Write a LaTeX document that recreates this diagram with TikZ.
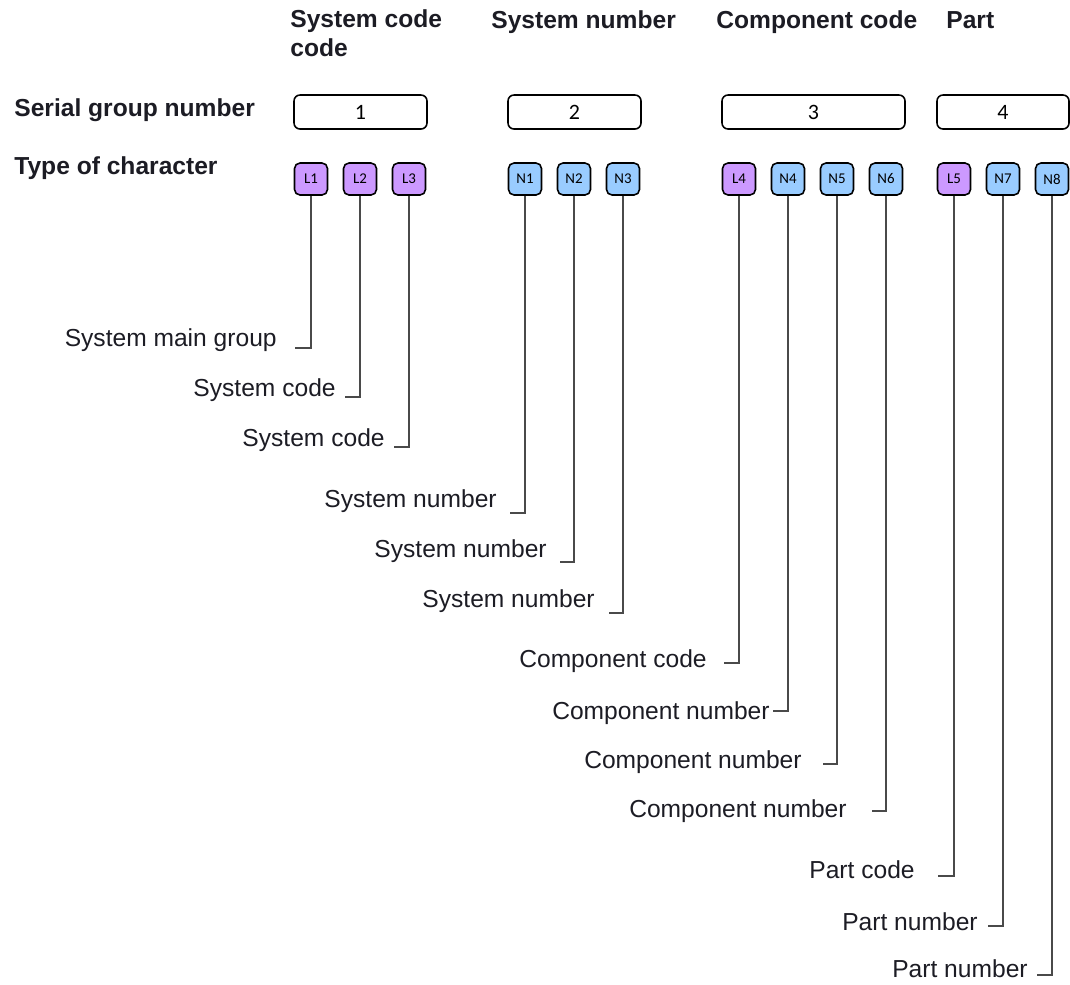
\documentclass[tikz,border=0pt]{standalone}
\usepackage{fontspec}
\setmainfont{Liberation Sans}
\newfontfamily\carlitofont{Carlito}
\usetikzlibrary{positioning}
\definecolor{letterfill}{HTML}{CC99FF}
\definecolor{numberfill}{HTML}{99CCFF}
\definecolor{linegray}{HTML}{4A4A4A}
\definecolor{textdark}{HTML}{1C1C24}
\tikzset{
	head/.style={anchor=base west, inner sep=0pt, text=textdark, font=\fontsize{14}{16}\selectfont\bfseries, align=left},
	group/.style={draw, line width=0.9pt, rounded corners=1.2mm, minimum height=0.68cm, inner sep=0pt, font=\carlitofont\fontsize{12.5}{14}\selectfont},
	charbox/.style={draw, line width=0.9pt, rounded corners=1.1mm, minimum width=0.66cm, minimum height=0.64cm, inner sep=0pt, font=\carlitofont\fontsize{8.5}{10}\selectfont},
	letter/.style={charbox, fill=letterfill},
	number/.style={charbox, fill=numberfill},
	lbl/.style={anchor=base east, inner sep=0pt, text=textdark, font=\fontsize{14}{16}\selectfont},
	conn/.style={draw=linegray, line width=0.8pt}
}
\begin{document}
\begin{tikzpicture}[x=0.02cm, y=-0.02cm]
		\useasboundingbox (0,0) rectangle (1070,984);
		% headings (two-line node sits on its last baseline)
		\node[head] (hsys) at (290, 56) {System code\\code};
		\node[head] (hnum) at (491, 28) {System number};
		\node[head] (hcomp) at (716, 28) {Component code};
		\node[head] (hpart) at (946, 28) {Part};
		\node[head] (serial) at (14, 116) {Serial group number};
		\node[head] (type) at (14, 174) {Type of character};
		% serial groups
		\node[group, minimum width=2.66cm] (g1) at (360.5, 112) {1};
		\node[group, minimum width=2.66cm] (g2) at (574.5, 112) {2};
		\node[group, minimum width=3.66cm] (g3) at (813.5, 112) {3};
		\node[group, minimum width=2.64cm] (g4) at (1003, 112) {4};
		% characters
		\node[letter] (L1) at (311, 179) {L1};
		\node[letter] (L2) at (360, 179) {L2};
		\node[letter] (L3) at (409, 179) {L3};
		\node[number] (N1) at (525, 179) {N1};
		\node[number] (N2) at (574, 179) {N2};
		\node[number] (N3) at (623, 179) {N3};
		\node[letter] (L4) at (739, 179) {L4};
		\node[number] (N4) at (788, 179) {N4};
		\node[number] (N5) at (837, 179) {N5};
		\node[number] (N6) at (886, 179) {N6};
		\node[letter] (L5) at (954, 179) {L5};
		\node[number] (N7) at (1003, 179) {N7};
		\node[number] (N8) at (1052, 179) {N8};
		% meanings
		\node[lbl] (mL1) at (277, 346) {System main group};
		\node[lbl] (mL2) at (336, 396) {System code};
		\node[lbl] (mL3) at (385, 446) {System code};
		\node[lbl] (mN1) at (497, 507) {System number};
		\node[lbl] (mN2) at (547, 557) {System number};
		\node[lbl] (mN3) at (595, 607) {System number};
		\node[lbl] (mL4) at (707, 667) {Component code};
		\node[lbl] (mN4) at (770, 719) {Component number};
		\node[lbl] (mN5) at (802, 768) {Component number};
		\node[lbl] (mN6) at (847, 817) {Component number};
		\node[lbl] (mL5) at (915, 878) {Part code};
		\node[lbl] (mN7) at (978, 930) {Part number};
		\node[lbl] (mN8) at (1028, 977) {Part number};
		% tick ends
		\coordinate (tL1) at (295, 348);
		\coordinate (tL2) at (345, 397);
		\coordinate (tL3) at (394, 447);
		\coordinate (tN1) at (510, 513);
		\coordinate (tN2) at (560, 562);
		\coordinate (tN3) at (609, 613);
		\coordinate (tL4) at (724, 663);
		\coordinate (tN4) at (773, 711);
		\coordinate (tN5) at (823, 764);
		\coordinate (tN6) at (872, 811);
		\coordinate (tL5) at (938, 876);
		\coordinate (tN7) at (988, 926);
		\coordinate (tN8) at (1037, 975);
		\draw[conn] (L1.south) |- (tL1);
		\draw[conn] (L2.south) |- (tL2);
		\draw[conn] (L3.south) |- (tL3);
		\draw[conn] (N1.south) |- (tN1);
		\draw[conn] (N2.south) |- (tN2);
		\draw[conn] (N3.south) |- (tN3);
		\draw[conn] (L4.south) |- (tL4);
		\draw[conn] (N4.south) |- (tN4);
		\draw[conn] (N5.south) |- (tN5);
		\draw[conn] (N6.south) |- (tN6);
		\draw[conn] (L5.south) |- (tL5);
		\draw[conn] (N7.south) |- (tN7);
		\draw[conn] (N8.south) |- (tN8);
	\end{tikzpicture}
\end{document}
